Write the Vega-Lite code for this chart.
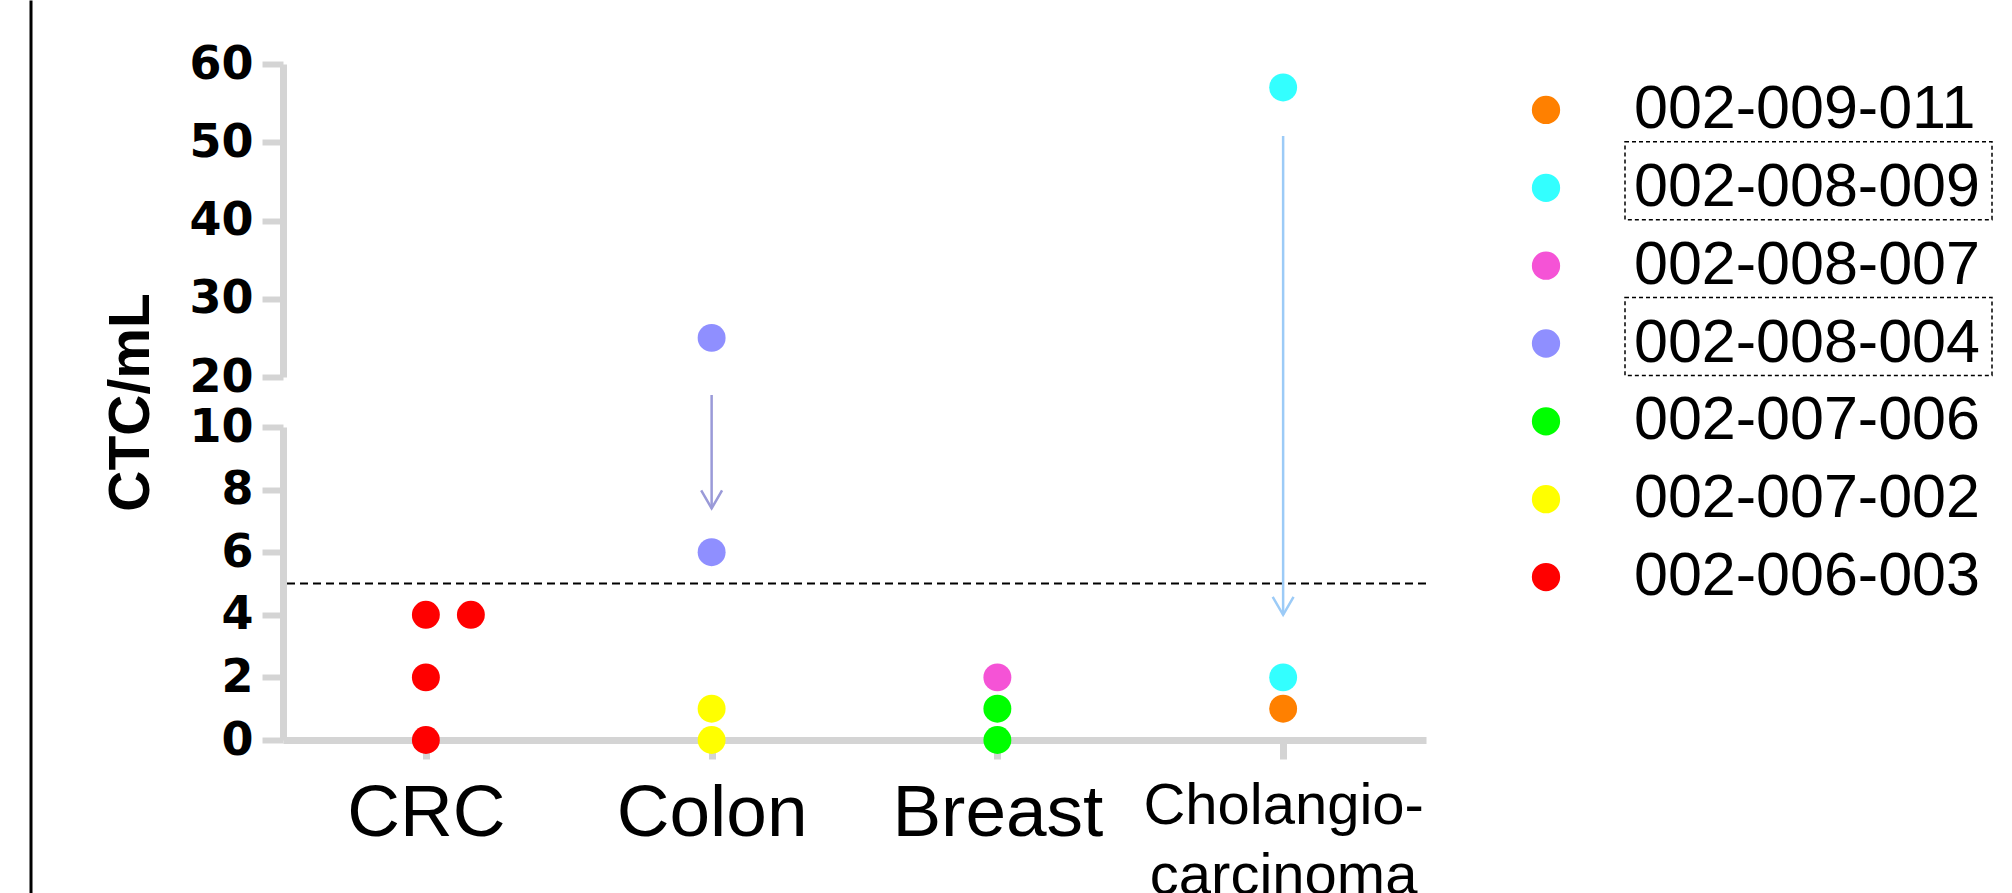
{
  "$schema": "https://vega.github.io/schema/vega-lite/v6.json",
  "padding": {"left": 30, "top": 41, "right": 0, "bottom": 0},
  "background": "white",
  "bounds": "flush",
  "spacing": 80,
  "datasets": {
    "points": [
      {"cancer": "CRC", "patient": "002-006-003", "value": 4, "dup": "a"},
      {"cancer": "CRC", "patient": "002-006-003", "value": 4, "dup": "b"},
      {"cancer": "CRC", "patient": "002-006-003", "value": 2, "dup": "a"},
      {"cancer": "CRC", "patient": "002-006-003", "value": 0, "dup": "a"},
      {"cancer": "Colon", "patient": "002-008-004", "value": 25, "dup": "a"},
      {"cancer": "Colon", "patient": "002-008-004", "value": 6, "dup": "a"},
      {"cancer": "Colon", "patient": "002-007-002", "value": 1, "dup": "a"},
      {"cancer": "Colon", "patient": "002-007-002", "value": 0, "dup": "a"},
      {"cancer": "Breast", "patient": "002-008-007", "value": 2, "dup": "a"},
      {"cancer": "Breast", "patient": "002-007-006", "value": 1, "dup": "a"},
      {"cancer": "Breast", "patient": "002-007-006", "value": 0, "dup": "a"},
      {"cancer": "Cholangiocarcinoma", "patient": "002-008-009", "value": 57, "dup": "a"},
      {"cancer": "Cholangiocarcinoma", "patient": "002-008-009", "value": 2, "dup": "a"},
      {"cancer": "Cholangiocarcinoma", "patient": "002-009-011", "value": 1, "dup": "a"}
    ],
    "arrows": [
      {"cancer": "Colon", "patient": "002-008-004", "from": 16.4, "to": 7.4},
      {"cancer": "Cholangiocarcinoma", "patient": "002-008-009", "from": 50.8, "to": 4.0}
    ],
    "patients": [
      {"patient": "002-009-011", "boxed": false},
      {"patient": "002-008-009", "boxed": true},
      {"patient": "002-008-007", "boxed": false},
      {"patient": "002-008-004", "boxed": true},
      {"patient": "002-007-006", "boxed": false},
      {"patient": "002-007-002", "boxed": false},
      {"patient": "002-006-003", "boxed": false}
    ]
  },
  "hconcat": [
    {
      "width": 1143,
      "height": 676,
      "layer": [
        {
          "data": {"name": "points"},
          "transform": [{"filter": "datum.value <= 10"}],
          "mark": {"type": "circle", "size": 780, "opacity": 1},
          "encoding": {
            "x": {
              "field": "cancer", "type": "nominal", "title": null,
              "scale": {"type": "point", "padding": 0.5, "domain": ["CRC", "Colon", "Breast", "Cholangiocarcinoma"]},
              "axis": {
                "labelAngle": 0,
                "labelLimit": 0,
                "labelExpr": "datum.value == 'Cholangiocarcinoma' ? ['Cholangio-', 'carcinoma'] : datum.label",
                "labelFontSize": {"condition": {"test": "datum.value == 'Cholangiocarcinoma'", "value": 58}, "value": 73},
                "labelOverlap": false
              }
            },
            "xOffset": {"field": "dup", "type": "nominal", "scale": {"type": "point", "padding": 0, "domain": ["a", "b"], "range": [0, 45]}},
            "y": {
              "field": "value", "type": "quantitative",
              "scale": {"domain": [0, 10], "range": [676, 363], "nice": false, "zero": false},
              "axis": {
                "orient": "left", "values": [0, 2, 4, 6, 8, 10],
                "title": "CTC/mL", "titleX": -152, "titleY": 338, "titleAngle": 270,
                "titleAlign": "center", "titleBaseline": "middle"
              }
            },
            "color": {
              "field": "patient", "type": "nominal", "legend": null,
              "scale": {
                "domain": ["002-009-011", "002-008-009", "002-008-007", "002-008-004", "002-007-006", "002-007-002", "002-006-003"],
                "range": ["#ff8000", "#33ffff", "#f553d6", "#8f8fff", "#00ff00", "#ffff00", "#ff0000"]
              }
            }
          }
        },
        {
          "data": {"name": "points"},
          "transform": [{"filter": "datum.value > 10"}],
          "mark": {"type": "circle", "size": 780, "opacity": 1},
          "encoding": {
            "x": {"field": "cancer", "type": "nominal", "title": null, "scale": {"type": "point", "padding": 0.5, "domain": ["CRC", "Colon", "Breast", "Cholangiocarcinoma"]}},
            "y": {
              "field": "value", "type": "quantitative", "title": null,
              "scale": {"domain": [20, 60], "range": [313, 0], "nice": false, "zero": false},
              "axis": {"orient": "left", "values": [20, 30, 40, 50, 60], "title": null}
            },
            "color": {
              "field": "patient", "type": "nominal", "legend": null,
              "scale": {
                "domain": ["002-009-011", "002-008-009", "002-008-007", "002-008-004", "002-007-006", "002-007-002", "002-006-003"],
                "range": ["#ff8000", "#33ffff", "#f553d6", "#8f8fff", "#00ff00", "#ffff00", "#ff0000"]
              }
            }
          }
        },
        {
          "layer": [
            {
              "data": {"values": [{}]},
              "mark": {"type": "rule", "strokeDash": [8, 5], "strokeWidth": 2, "color": "black"},
              "encoding": {
                "y": {
                  "datum": 5, "type": "quantitative",
                  "scale": {"domain": [-5, 0, 10, 20, 60, 70], "range": [829, 676, 363, 313, 0, -64], "nice": false, "zero": false},
                  "axis": {"orient": "left", "offset": 252.5, "labels": false, "ticks": false, "title": null, "domainColor": "black", "domainWidth": 3, "grid": false}
                }
              }
            },
            {
              "data": {"name": "arrows"},
              "mark": {"type": "rule", "strokeWidth": 2.5},
              "encoding": {
                "x": {"field": "cancer", "type": "nominal", "title": null, "scale": {"type": "point", "padding": 0.5, "domain": ["CRC", "Colon", "Breast", "Cholangiocarcinoma"]}},
                "y": {
                  "field": "from", "type": "quantitative", "title": null,
                  "scale": {"domain": [-5, 0, 10, 20, 60, 70], "range": [829, 676, 363, 313, 0, -64], "nice": false, "zero": false},
                  "axis": {"orient": "left", "offset": 252.5, "labels": false, "ticks": false, "title": null, "domainColor": "black", "domainWidth": 3, "grid": false}
                },
                "y2": {"field": "to"},
                "color": {"condition": {"test": "datum.patient === '002-008-004'", "value": "#9a9ad8"}, "value": "#9ccbf7"}
              }
            },
            {
              "data": {"name": "arrows"},
              "mark": {"type": "point", "shape": "M -0.58 -1 L 0 0 L 0.58 -1", "size": 1296, "filled": false, "strokeWidth": 2.5, "opacity": 1},
              "encoding": {
                "x": {"field": "cancer", "type": "nominal", "title": null, "scale": {"type": "point", "padding": 0.5, "domain": ["CRC", "Colon", "Breast", "Cholangiocarcinoma"]}},
                "y": {
                  "field": "to", "type": "quantitative", "title": null,
                  "scale": {"domain": [-5, 0, 10, 20, 60, 70], "range": [829, 676, 363, 313, 0, -64], "nice": false, "zero": false},
                  "axis": {"orient": "left", "offset": 252.5, "labels": false, "ticks": false, "title": null, "domainColor": "black", "domainWidth": 3, "grid": false}
                },
                "color": {"condition": {"test": "datum.patient === '002-008-004'", "value": "#9a9ad8"}, "value": "#9ccbf7"}
              }
            }
          ]
        }
      ],
      "resolve": {"scale": {"y": "independent"}, "axis": {"y": "independent"}}
    },
    {
      "width": 488,
      "height": 559,
      "data": {"name": "patients"},
      "layer": [
        {
          "transform": [{"filter": "datum.boxed"}],
          "mark": {"type": "rect", "filled": false, "color": "black", "strokeWidth": 1.5, "strokeDash": [4, 3]},
          "encoding": {
            "x": {"datum": 119, "type": "quantitative", "scale": {"domain": [0, 488], "nice": false, "zero": false}, "axis": null},
            "x2": {"datum": 486},
            "y": {"field": "patient", "type": "nominal", "axis": null, "sort": null,
              "scale": {"type": "band", "domain": ["002-009-011", "002-008-009", "002-008-007", "002-008-004", "002-007-006", "002-007-002", "002-006-003"], "paddingInner": 0, "paddingOuter": 0.09, "align": 0}}
          }
        },
        {
          "layer": [
            {
              "mark": {"type": "circle", "size": 800, "opacity": 1},
              "encoding": {
                "x": {"datum": 40, "type": "quantitative", "scale": {"domain": [0, 488], "nice": false, "zero": false}, "axis": null},
                "y": {"field": "patient", "type": "nominal", "axis": null, "sort": null,
                  "scale": {"type": "band", "domain": ["002-009-011", "002-008-009", "002-008-007", "002-008-004", "002-007-006", "002-007-002", "002-006-003"], "paddingInner": 0, "paddingOuter": 0.09}},
                "color": {
                  "field": "patient", "type": "nominal", "legend": null,
                  "scale": {
                    "domain": ["002-009-011", "002-008-009", "002-008-007", "002-008-004", "002-007-006", "002-007-002", "002-006-003"],
                    "range": ["#ff8000", "#33ffff", "#f553d6", "#8f8fff", "#00ff00", "#ffff00", "#ff0000"]
                  }
                }
              }
            },
            {
              "mark": {"type": "text", "align": "left", "baseline": "middle", "font": "Liberation Sans", "fontSize": 61, "color": "black"},
              "encoding": {
                "x": {"datum": 128, "type": "quantitative", "scale": {"domain": [0, 488], "nice": false, "zero": false}, "axis": null},
                "y": {"field": "patient", "type": "nominal", "axis": null, "sort": null,
                  "scale": {"type": "band", "domain": ["002-009-011", "002-008-009", "002-008-007", "002-008-004", "002-007-006", "002-007-002", "002-006-003"], "paddingInner": 0, "paddingOuter": 0.09}},
                "text": {"field": "patient", "type": "nominal"}
              }
            }
          ]
        }
      ],
      "resolve": {"scale": {"y": "independent"}}
    }
  ],
  "config": {
    "view": {"stroke": null},
    "font": "Liberation Sans",
    "axisX": {
      "domainColor": "#d4d4d4", "domainWidth": 7, "tickColor": "#d4d4d4", "tickWidth": 7, "tickSize": 19,
      "labelFont": "Liberation Sans", "labelColor": "black", "labelPadding": 18, "labelLineHeight": 70, "grid": false
    },
    "axisY": {
      "domainColor": "#d4d4d4", "domainWidth": 7, "tickColor": "#d4d4d4", "tickWidth": 6, "tickSize": 21,
      "labelFont": "DejaVu Sans", "labelFontWeight": "bold", "labelFontSize": 46, "labelColor": "black", "labelPadding": 9,
      "titleFont": "Liberation Sans", "titleFontWeight": "bold", "titleFontSize": 57, "titleColor": "black", "grid": false
    }
  }
}
